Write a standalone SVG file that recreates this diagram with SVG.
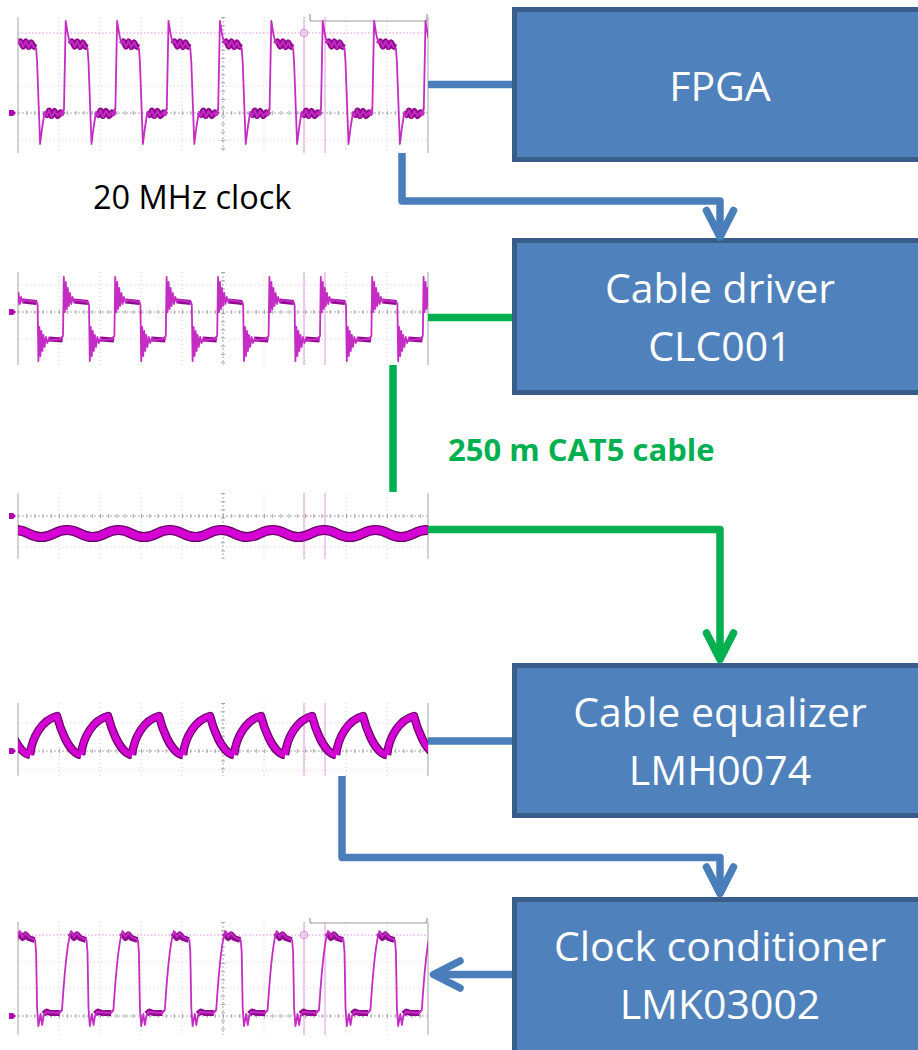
<svg xmlns="http://www.w3.org/2000/svg" width="918" height="1050" viewBox="0 0 918 1050">
<style>
.box{fill:#4F81BD;stroke:#385D8A;stroke-width:5}
.lbl{font-family:"Open Sans","Liberation Sans",sans-serif;font-size:41px;fill:#FFFFFF;text-anchor:middle}
.note{font-family:"Open Sans","Liberation Sans",sans-serif;font-size:32.5px;fill:#000000}
.cable{font-family:"Open Sans","Liberation Sans",sans-serif;font-size:31px;font-weight:bold;fill:#00B050}
.cb{fill:none;stroke:#4A7EBB;stroke-width:7.5;stroke-linejoin:round}
.cg{fill:none;stroke:#00B050;stroke-width:7.5;stroke-linejoin:round}
.hd{stroke-linecap:round}
.frame{stroke:#B4B4B4;stroke-width:1.2;fill:none}
.gv{stroke:#CFCFCF;stroke-width:1;stroke-dasharray:1 3;fill:none}
.gc{stroke:#A8A8A8;stroke-width:1;stroke-dasharray:2 2;fill:none}
.tk{stroke:#A8A8A8;stroke-width:4;stroke-dasharray:1 7.2;fill:none}
.cur{stroke:#E6A8E6;stroke-width:1.2;fill:none}
.curh{stroke:#E090E0;stroke-width:1.2;stroke-dasharray:1.5 2;fill:none}
.gbox{stroke:#9A9A9A;stroke-width:1.2;fill:none}
.thin{fill:none;stroke:#C42CC4;stroke-width:1.8;stroke-linejoin:round}
.thick{fill:none;stroke:#900A90;stroke-width:6;stroke-linejoin:round;stroke-linecap:butt}
.bandO{fill:none;stroke:#6A006A;stroke-width:8.5;stroke-linejoin:round}
.bandI{fill:none;stroke:#D400D4;stroke-width:6;stroke-linejoin:round}
.gm{fill:#B000B0}
</style>
<defs>
<clipPath id="c1"><rect x="18" y="10" width="410" height="150"/></clipPath>
<clipPath id="c2"><rect x="18" y="265" width="410" height="105"/></clipPath>
<clipPath id="c3"><rect x="18" y="485" width="410" height="80"/></clipPath>
<clipPath id="c4"><rect x="18" y="695" width="410" height="85"/></clipPath>
<clipPath id="c5"><rect x="18" y="915" width="410" height="125"/></clipPath>
<path id="w1t" d="M -3 116 L 0 108 L 1.7 21 L 4 35 L 6 43 L 8 41 L 10.5 47 L 13.3 41 L 16 48 L 18.7 42 L 21 47 L 23.5 48 L 24.5 62 L 27.5 144 L 29.5 128 L 32 112 L 34 116 L 36.5 110 L 39 117 L 42 111 L 45 116 L 48 112 L 50.5 115 L 51.4 108"/>
<path id="w1k" d="M 6 44 L 8 41.5 L 10.5 46.5 L 13.3 41.5 L 16 47 L 18.7 42.5 L 21 46.5 L 23.5 47.5 M 33 112 L 34.5 115 L 36.5 110.5 L 39 116 L 42 111 L 45 116 L 48 112.5 L 50.5 115"/>
<path id="w2t" d="M -3 339 L 0 336 L 0.8 277 L 1.8 312 L 2.8 282 L 3.8 309 L 4.8 288 L 5.8 306 L 7 293 L 8.2 304 L 9.5 297 L 11 302 L 13 300 L 25.2 302 L 26 305 L 26.8 361 L 27.8 327 L 28.8 356 L 29.8 331 L 30.8 351 L 31.8 335 L 33 347 L 34.3 337 L 35.8 343 L 37.5 338 L 39 340 L 51.4 339"/>
<path id="w2k" d="M 11 301 L 25 302.5 M 37 339 L 51 340"/>
<path id="w3" d="M 2.75 533.5 Q 15.6 526.5 28.45 533.5 T 54.15 533.5 T 79.85 533.5 T 105.55 533.5 T 131.25 533.5 T 156.95 533.5 T 182.65 533.5 T 208.35 533.5 T 234.05 533.5 T 259.75 533.5 T 285.45 533.5 T 311.15 533.5 T 336.85 533.5 T 362.55 533.5 T 388.25 533.5 T 413.95 533.5 T 439.65 533.5"/>
<path id="w4" d="M 0 755 C 2 737, 12 720, 27 716 C 29.5 726, 38 753, 51 755"/>
<path id="w5t" d="M -3 1013 L 0 1010 C 2 982, 4 946, 9 931 L 12 937 L 15 933 L 18 937 L 24.5 940 L 25.5 952 L 26.5 1008 L 27.8 1026 L 30 1014 L 31.5 1025 L 33 1016 L 35 1012 L 49 1013 L 51.4 1010"/>
<path id="w5k" d="M 8 933 L 12 938 L 15 934.5 L 18 938 L 24 940 M 33 1014 L 36 1011.5 L 40 1013 L 49 1013"/>
</defs>

<g id="scope-fpga-out">
<path class="gv" d="M59 17V153M100 17V153M141 17V153M182 17V153M264 17V153M305 17V153M346 17V153M387 17V153M18 86H428M18 140H428"/>
<path class="gc" d="M223 17V153M18 113H428"/>
<path class="tk" d="M223 17V153M18 113H428"/>
<path class="curh" d="M18 33H428"/>
<path class="cur" d="M304 17V153M325 17V153"/>
<circle cx="304" cy="33" r="3.5" fill="none" stroke="#E0A0E0" stroke-width="1.5"/>
<path class="frame" d="M18 17V153M428 17V153"/>
<path class="gbox" d="M310 14V19Q310 21 312 21H425Q427 21 427 19V14"/>
<path class="gm" d="M9 110h4l3 3l-3 3h-4z"/>
<g clip-path="url(#c1)">
<use href="#w1k" class="thick" transform="translate(-38.8 0)"/><use href="#w1k" class="thick" transform="translate(12.6 0)"/><use href="#w1k" class="thick" transform="translate(64 0)"/><use href="#w1k" class="thick" transform="translate(115.4 0)"/><use href="#w1k" class="thick" transform="translate(166.8 0)"/><use href="#w1k" class="thick" transform="translate(218.2 0)"/><use href="#w1k" class="thick" transform="translate(269.6 0)"/><use href="#w1k" class="thick" transform="translate(321 0)"/><use href="#w1k" class="thick" transform="translate(372.4 0)"/>
<use href="#w1t" class="thin" transform="translate(12.6 0)"/><use href="#w1t" class="thin" transform="translate(64 0)"/><use href="#w1t" class="thin" transform="translate(115.4 0)"/><use href="#w1t" class="thin" transform="translate(166.8 0)"/><use href="#w1t" class="thin" transform="translate(218.2 0)"/><use href="#w1t" class="thin" transform="translate(269.6 0)"/><use href="#w1t" class="thin" transform="translate(321 0)"/><use href="#w1t" class="thin" transform="translate(372.4 0)"/><use href="#w1t" class="thin" transform="translate(423.8 0)"/>
</g>
</g>

<g id="scope-driver-out">
<path class="gv" d="M59 272V365M100 272V365M141 272V365M182 272V365M264 272V365M305 272V365M346 272V365M387 272V365M18 285H428M18 339H428"/>
<path class="gc" d="M223 272V365M18 312H428"/>
<path class="tk" d="M223 272V365M18 312H428"/>
<path class="cur" d="M304 272V365M325 272V365"/>
<path class="frame" d="M18 272V365M428 272V365"/>
<path class="gm" d="M9 309h4l3 3l-3 3h-4z"/>
<g clip-path="url(#c2)">
<use href="#w2k" class="thick" style="stroke-width:5" transform="translate(-39.8 0)"/><use href="#w2k" class="thick" style="stroke-width:5" transform="translate(11.6 0)"/><use href="#w2k" class="thick" style="stroke-width:5" transform="translate(63 0)"/><use href="#w2k" class="thick" style="stroke-width:5" transform="translate(114.4 0)"/><use href="#w2k" class="thick" style="stroke-width:5" transform="translate(165.8 0)"/><use href="#w2k" class="thick" style="stroke-width:5" transform="translate(217.2 0)"/><use href="#w2k" class="thick" style="stroke-width:5" transform="translate(268.6 0)"/><use href="#w2k" class="thick" style="stroke-width:5" transform="translate(320 0)"/><use href="#w2k" class="thick" style="stroke-width:5" transform="translate(371.4 0)"/>
<use href="#w2t" class="thin" transform="translate(11.6 0)"/><use href="#w2t" class="thin" transform="translate(63 0)"/><use href="#w2t" class="thin" transform="translate(114.4 0)"/><use href="#w2t" class="thin" transform="translate(165.8 0)"/><use href="#w2t" class="thin" transform="translate(217.2 0)"/><use href="#w2t" class="thin" transform="translate(268.6 0)"/><use href="#w2t" class="thin" transform="translate(320 0)"/><use href="#w2t" class="thin" transform="translate(371.4 0)"/><use href="#w2t" class="thin" transform="translate(422.8 0)"/>
</g>
</g>

<g id="scope-cable-end">
<path class="gv" d="M59 493V559M100 493V559M141 493V559M182 493V559M264 493V559M305 493V559M346 493V559M387 493V559M18 547H428"/>
<path class="gc" d="M223 493V559M18 516H428"/>
<path class="tk" d="M223 493V559M18 516H428"/>
<path class="cur" d="M304 493V559M325 493V559"/>
<path class="frame" d="M18 493V559M428 493V559"/>
<path class="gm" d="M9 513h4l3 3l-3 3h-4z"/>
<g clip-path="url(#c3)">
<use href="#w3" class="bandO" style="stroke-width:10"/>
<use href="#w3" class="bandI" style="stroke-width:7.5"/>
</g>
</g>

<g id="scope-equalizer-out">
<path class="gv" d="M59 703V776M100 703V776M141 703V776M182 703V776M264 703V776M305 703V776M346 703V776M387 703V776M18 723H428M18 770H428"/>
<path class="gc" d="M223 703V776M18 751H428"/>
<path class="tk" d="M223 703V776M18 751H428"/>
<path class="cur" d="M304 703V776M325 703V776"/>
<path class="frame" d="M18 703V776M428 703V776"/>
<path class="gm" d="M9 748h4l3 3l-3 3h-4z"/>
<g clip-path="url(#c4)">
<use href="#w4" class="bandO" transform="translate(-21 0)"/><use href="#w4" class="bandO" transform="translate(30 0)"/><use href="#w4" class="bandO" transform="translate(81 0)"/><use href="#w4" class="bandO" transform="translate(132 0)"/><use href="#w4" class="bandO" transform="translate(183 0)"/><use href="#w4" class="bandO" transform="translate(234 0)"/><use href="#w4" class="bandO" transform="translate(285 0)"/><use href="#w4" class="bandO" transform="translate(336 0)"/><use href="#w4" class="bandO" transform="translate(387 0)"/>
<use href="#w4" class="bandI" transform="translate(-21 0)"/><use href="#w4" class="bandI" transform="translate(30 0)"/><use href="#w4" class="bandI" transform="translate(81 0)"/><use href="#w4" class="bandI" transform="translate(132 0)"/><use href="#w4" class="bandI" transform="translate(183 0)"/><use href="#w4" class="bandI" transform="translate(234 0)"/><use href="#w4" class="bandI" transform="translate(285 0)"/><use href="#w4" class="bandI" transform="translate(336 0)"/><use href="#w4" class="bandI" transform="translate(387 0)"/>
</g>
</g>

<g id="scope-conditioner-out">
<path class="gv" d="M59 922V1035M100 922V1035M141 922V1035M182 922V1035M264 922V1035M305 922V1035M346 922V1035M387 922V1035M18 962H428M18 988H428"/>
<path class="gc" d="M223 922V1035M18 1016H428"/>
<path class="tk" d="M223 922V1035M18 1016H428"/>
<path class="curh" d="M18 935H428"/>
<path class="cur" d="M304 922V1035M325 922V1035"/>
<circle cx="304" cy="935" r="3.5" fill="none" stroke="#E0A0E0" stroke-width="1.5"/>
<path class="frame" d="M18 922V1035M428 922V1035"/>
<path class="gbox" d="M310 918V921Q310 923 312 923H425Q427 923 427 921V918"/>
<path class="gm" d="M9 1013h4l3 3l-3 3h-4z"/>
<g clip-path="url(#c5)">
<use href="#w5k" class="thick" transform="translate(-40.8 0)"/><use href="#w5k" class="thick" transform="translate(10.6 0)"/><use href="#w5k" class="thick" transform="translate(62 0)"/><use href="#w5k" class="thick" transform="translate(113.4 0)"/><use href="#w5k" class="thick" transform="translate(164.8 0)"/><use href="#w5k" class="thick" transform="translate(216.2 0)"/><use href="#w5k" class="thick" transform="translate(267.6 0)"/><use href="#w5k" class="thick" transform="translate(319 0)"/><use href="#w5k" class="thick" transform="translate(370.4 0)"/>
<use href="#w5t" class="thin" transform="translate(-40.8 0)"/><use href="#w5t" class="thin" transform="translate(10.6 0)"/><use href="#w5t" class="thin" transform="translate(62 0)"/><use href="#w5t" class="thin" transform="translate(113.4 0)"/><use href="#w5t" class="thin" transform="translate(164.8 0)"/><use href="#w5t" class="thin" transform="translate(216.2 0)"/><use href="#w5t" class="thin" transform="translate(267.6 0)"/><use href="#w5t" class="thin" transform="translate(319 0)"/><use href="#w5t" class="thin" transform="translate(370.4 0)"/><use href="#w5t" class="thin" transform="translate(421.8 0)"/>
</g>
</g>

<g id="fpga"><rect class="box" x="514.5" y="9.5" width="420" height="150"/><text class="lbl" x="720" y="101">FPGA</text></g>
<g id="cable-driver"><rect class="box" x="514.5" y="240.5" width="420" height="152"/><text class="lbl" x="720" y="303">Cable driver</text><text class="lbl" x="720" y="361">CLC001</text></g>
<g id="cable-equalizer"><rect class="box" x="514.5" y="665.5" width="420" height="150"/><text class="lbl" x="720" y="727">Cable equalizer</text><text class="lbl" x="720" y="785">LMH0074</text></g>
<g id="clock-conditioner"><rect class="box" x="514.5" y="899.5" width="420" height="160"/><text class="lbl" x="720" y="961">Clock conditioner</text><text class="lbl" x="720" y="1019">LMK03002</text></g>

<g id="label-clock"><text class="note" x="93" y="209">20 MHz clock</text></g>
<g id="label-cable"><text class="cable" x="448" y="461">250 m CAT5 cable</text></g>

<g id="connectors">
<path id="c-fpga" class="cb" d="M428 84.5H512"/>
<path id="c-fpga-driver" class="cb" d="M402 153V201H720V234"/>
<path class="cb hd" d="M706.5 210.5L720 237L733.5 210.5"/>
<path id="c-driver" class="cg" d="M428 317.5H512"/>
<path id="c-cable" class="cg" d="M393 365V492"/>
<path id="c-cable-eq" class="cg" d="M428 529.5H720V656"/>
<path class="cg hd" d="M706.5 633L720 659.5L733.5 633"/>
<path id="c-eq" class="cb" d="M428 741H512"/>
<path id="c-eq-cond" class="cb" d="M342 776V857.5H720V890"/>
<path class="cb hd" d="M706.5 867L720 893.5L733.5 867"/>
<path id="c-cond-out" class="cb" d="M512 974.5H437"/>
<path class="cb hd" d="M460 961L433.5 974.5L460 988"/>
</g>
</svg>
